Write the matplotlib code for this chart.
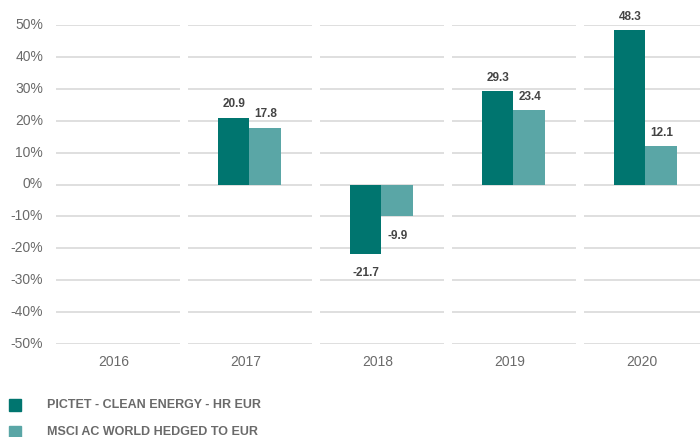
import matplotlib.pyplot as plt
import numpy as np

plt.rcParams['font.family'] = ['Liberation Sans', 'DejaVu Sans']

years = ['2016', '2017', '2018', '2019', '2020']
fund = [None, 20.9, -21.7, 29.3, 48.3]
index = [None, 17.8, -9.9, 23.4, 12.1]
fund_name = 'PICTET - CLEAN ENERGY - HR EUR'
index_name = 'MSCI AC WORLD HEDGED TO EUR'
yticks = [50, 40, 30, 20, 10, 0, -10, -20, -30, -40, -50]

dark = '#00756f'
light = '#5aa6a6'
grid_c = '#d9d9d9'
txt = '#6a6a6a'
val_c = '#444444'

fig = plt.figure(figsize=(7, 4.37), dpi=100)
ax = fig.add_axes([52 / 700, 93 / 437, 648 / 700, 319 / 437])
ax.set_xlim(-0.5, -0.5 + 648 / 132)
ax.set_ylim(-50, 50)
ax.axis('off')

gap = 4 / 132
for i in range(len(years)):
    ax.hlines(yticks, i - 0.5 + gap, i + 0.5 - gap, color=grid_c, lw=1.2, zorder=0)
    ax.text(i - 0.03, -53.5, years[i], ha='center', va='top', fontsize=10, color=txt)

w = 0.24
x = np.arange(len(years))
for i in x:
    if fund[i] is None:
        continue
    ax.bar(i - w / 2 - 0.006, fund[i], w, color=dark, zorder=2)
    ax.bar(i + w / 2 - 0.006, index[i], w, color=light, zorder=2)
    for xv, v in ((i - w / 2, fund[i]), (i + w / 2, index[i])):
        if v >= 0:
            ax.text(xv, v + 2.3, f'{v:.1f}', ha='center', va='bottom', fontsize=8.5,
                    fontweight='bold', color=val_c)
        else:
            ax.text(xv, v - 4.3, f'{v:.1f}', ha='center', va='top', fontsize=8.5,
                    fontweight='bold', color=val_c)

for t in yticks:
    fig.text(43 / 700, ax.transData.transform((0, t))[1] / fig.bbox.height,
             f'{t}%', ha='right', va='center', fontsize=10, color=txt)

# legend
for yy, c, name in ((405, dark, fund_name), (432, light, index_name)):
    fig.patches.append(plt.Rectangle((9 / 700, 1 - (yy + 6) / 437), 12 / 700, 12 / 437,
                                     transform=fig.transFigure, color=c))
    fig.text(47 / 700, 1 - yy / 437, name, ha='left', va='center', fontsize=9,
             fontweight='bold', color=txt)

fig.savefig('out.png', dpi=100)
